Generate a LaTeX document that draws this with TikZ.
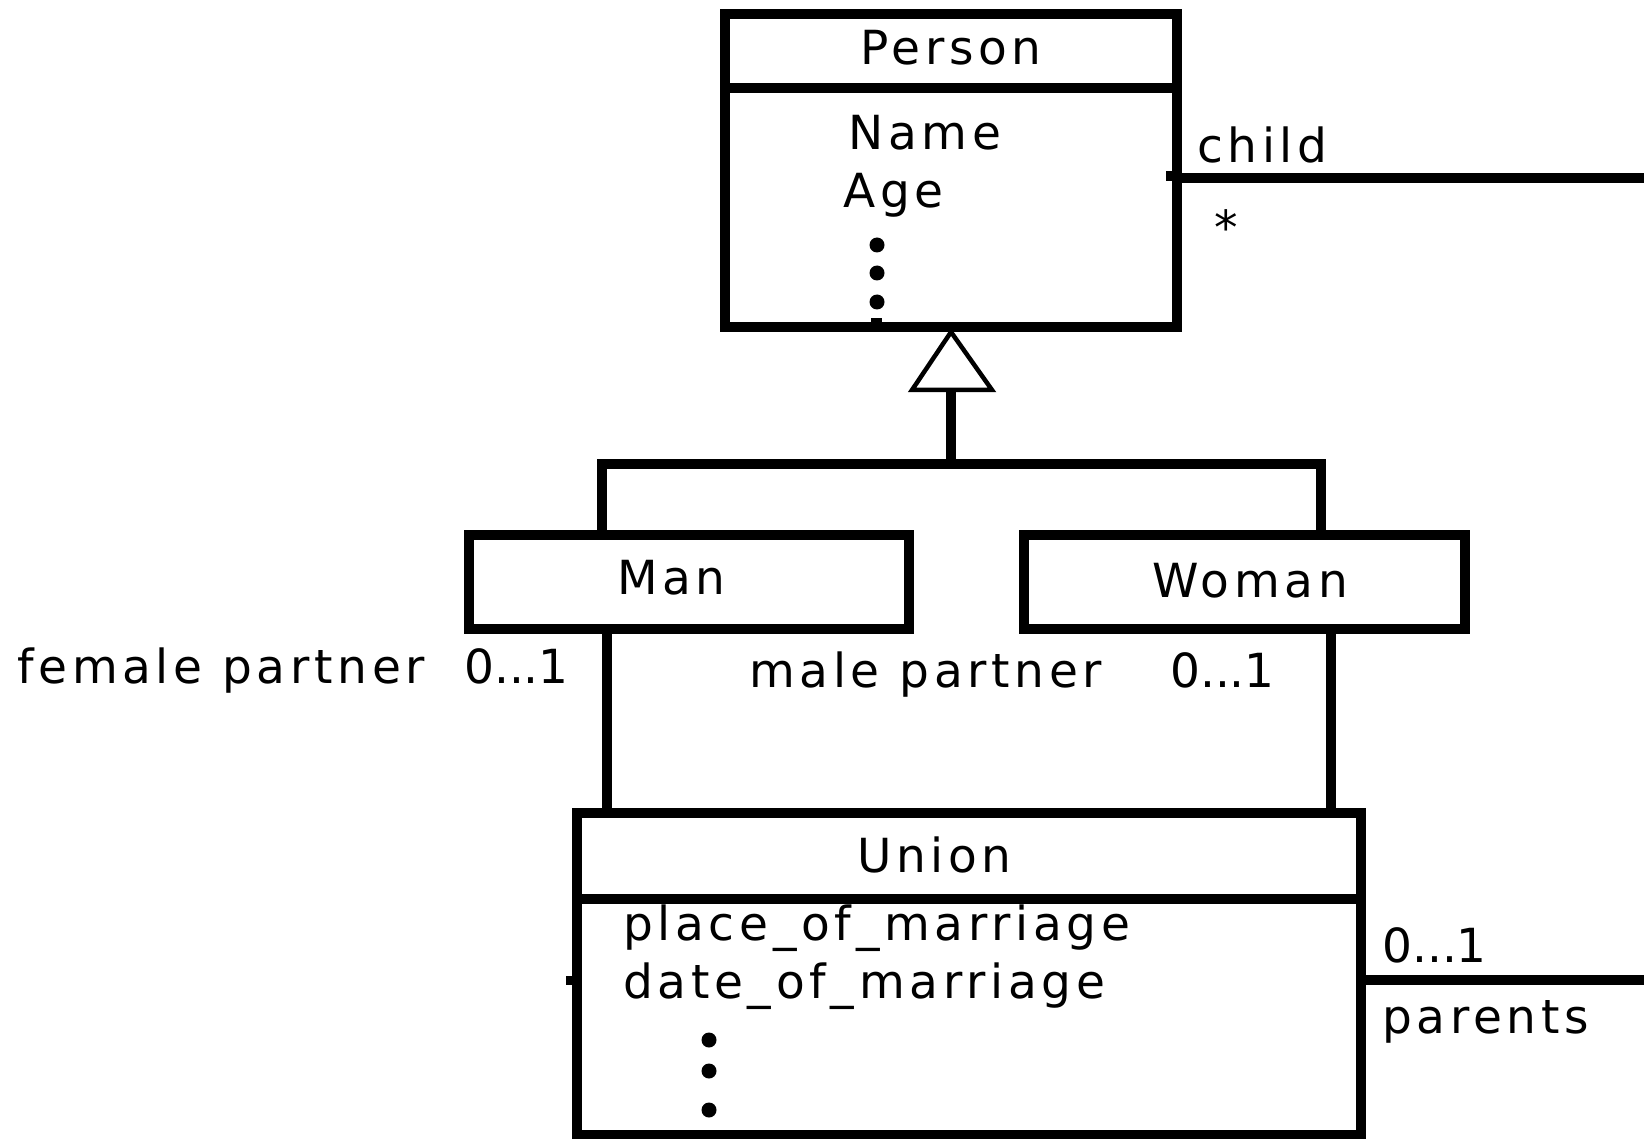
\documentclass[tikz,border=0pt]{standalone}
\usepackage{fontspec}
\setmainfont[LetterSpace=10]{DejaVu Sans}
\newfontfamily\numfont{DejaVu Sans}
\begin{document}
\begin{tikzpicture}[x=1pt,y=-1pt,
  box/.style={draw=black, line width=10pt, rectangle, inner sep=0pt, outer sep=0pt},
  conn/.style={draw=black, line width=10pt},
  gentip/.style={draw=black, line width=4.5pt, line join=miter},
  txt/.style={inner sep=0pt, anchor=base west, font=\fontsize{47}{56}\selectfont},
  num/.style={txt, font=\fontsize{47}{56}\selectfont\numfont},
  bullet/.style={fill=black, circle, minimum size=15pt, inner sep=0pt}]

% canvas
\fill[white] (0,0) rectangle (1644,1139);
\useasboundingbox (0,0) rectangle (1644,1139);

% classes
\node[box, minimum width=452pt, minimum height=313pt] (person) at (951,170.5) {};
\draw[conn] ([yshift=-74pt]person.north west) -- ([yshift=-74pt]person.north east);
\node[box, minimum width=440pt, minimum height=94pt] (man) at (689,582) {};
\node[box, minimum width=441pt, minimum height=94pt] (woman) at (1244.5,582) {};
\node[box, minimum width=784pt, minimum height=321.5pt] (union) at (969,973.75) {};
\draw[conn] ([yshift=-86pt]union.north west) -- ([yshift=-86pt]union.north east);

% class texts
\node[txt, anchor=base] (tperson) at (951,65) {Person};
\node[txt] (tname) at (848,150) {Name};
\node[txt] (tage) at (843,208) {Age};
\node[bullet] (pd1) at (877,245) {};
\node[bullet] (pd2) at (877,273) {};
\node[bullet] (pd3) at (877,302) {};
\fill (871,318) rectangle (882,324);
\node[txt] (tman) at (617,594) {Man};
\node[txt] (twoman) at (1152,597) {Woman};
\node[txt] (tunion) at (857,872) {Union};
\node[txt] (tplace) at (623,940) {place\_of\_marriage};
\node[txt] (tdate) at (623,998) {date\_of\_marriage};
\node[bullet] (ud1) at (709,1040) {};
\node[bullet] (ud2) at (709,1071) {};
\node[bullet] (ud3) at (709,1110) {};

% generalization
\coordinate (apex) at ([yshift=-5pt]person.south);
\coordinate (gl) at (912,390);
\coordinate (gr) at (992,390);
\coordinate (gb) at (951,390);
\draw[gentip] (apex) -- (gl) -- (gr) -- cycle;
\coordinate (fork) at (951,464);
\coordinate (forkL) at (602,464);
\coordinate (forkR) at (1321,464);
\draw[conn] (gb) -- (fork);
\draw[conn] (man.north -| forkL) -- (forkL) -- (forkR) -- (woman.north -| forkR);

% partner associations
\coordinate (am) at (607,720);
\coordinate (aw) at (1331,720);
\draw[conn] (man.south -| am) -- (union.north -| am);
\draw[conn] (woman.south -| aw) -- (union.north -| aw);
\node[txt] (tfp) at (17,683) {female partner};
\node[num] (tm1) at (464,683) {0...1};
\node[txt] (tmp) at (749,687) {male partner};
\node[num] (tm2) at (1170,687) {0...1};

% child / parents association
\coordinate (childR) at (1644,178);
\draw[conn] (childR -| person.east) -- (childR);
\fill (1166,171) rectangle (1174,181);
\node[txt] (tchild) at (1197,163) {child};
\node[num, anchor=base] (tstar) at (1226,245) {*};

\coordinate (parR) at (1644,980);
\draw[conn] (parR -| union.east) -- (parR);
\fill (566,976) rectangle (574,985);
\node[num] (tm3) at (1382,962) {0...1};
\node[txt] (tparents) at (1382,1033) {parents};
\end{tikzpicture}
\end{document}
